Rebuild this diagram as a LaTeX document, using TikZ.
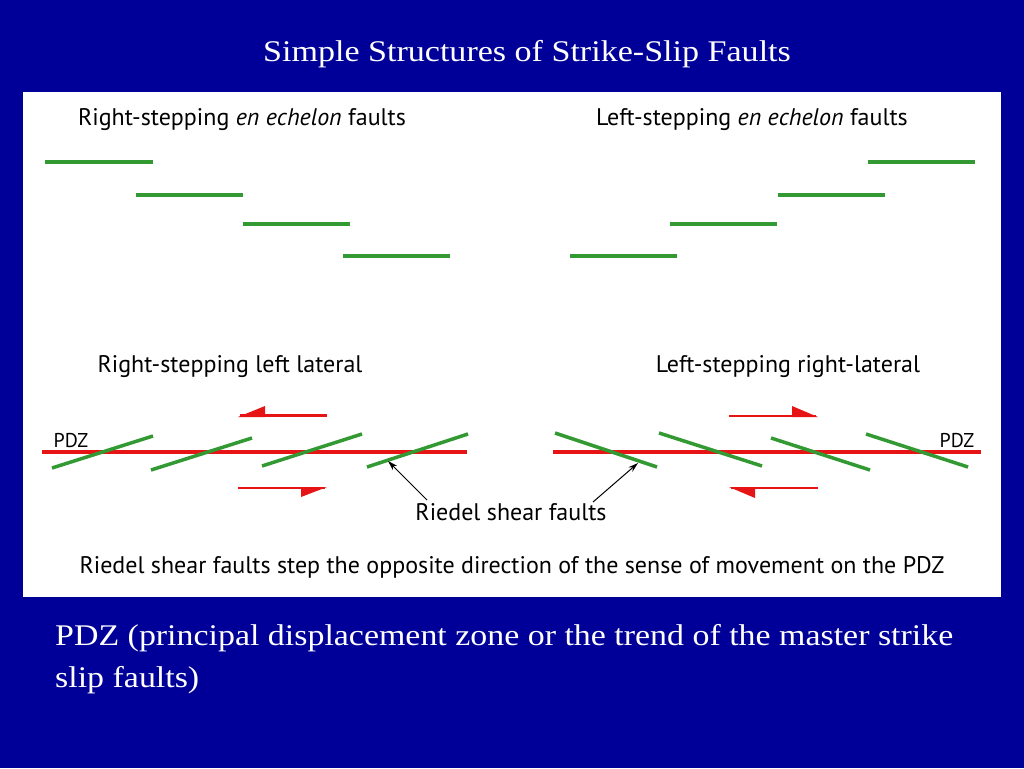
\documentclass[tikz,border=0pt]{standalone}
\usepackage{fontspec}
\setmainfont{Liberation Serif}
\newfontfamily\panelfont{PT Sans}
\usetikzlibrary{arrows.meta}
\definecolor{bgblue}{RGB}{0,0,153}
\definecolor{fgreen}{RGB}{51,153,51}
\definecolor{fred}{RGB}{230,20,20}
\begin{document}
\begin{tikzpicture}[x=1pt,y=-1pt,
  fault/.style={draw=fgreen,line width=3.5pt},
  pdz/.style={draw=fred,line width=3.5pt},
  sense/.style={draw=fred,line width=2.5pt},
  headfill/.style={fill=fred},
  lbl/.style={font=\panelfont\fontsize{24}{28}\selectfont,inner sep=0pt,text=black,anchor=base},
  small/.style={font=\panelfont\fontsize{20}{24}\selectfont,inner sep=0pt,text=black,anchor=base},
  ptr/.style={draw=black,line width=1pt,-{Stealth[length=10pt,width=6pt]}},
  slide/.style={text=white,inner sep=0pt}]
\useasboundingbox (0,0) rectangle (1024,768);
\fill[bgblue] (0,0) rectangle (1024,768);
\fill[white] (23,92) rectangle (1001,597);
% title
\node[slide,anchor=base,font=\fontsize{30}{36}\selectfont] (title) at (527,61) {\scalebox{1.135}[1]{Simple Structures of Strike-Slip Faults}};
% en echelon labels
\node[lbl] (rse) at (242,125) {Right-stepping \textit{en echelon} faults};
\node[lbl] (lse) at (752,125) {Left-stepping \textit{en echelon} faults};
% en echelon faults
\draw[fault] (45,162) -- (153,162);
\draw[fault] (136,195) -- (243,195);
\draw[fault] (243,224) -- (350,224);
\draw[fault] (343,256) -- (450,256);
\draw[fault] (868,162) -- (975,162);
\draw[fault] (778,195) -- (885,195);
\draw[fault] (670,224) -- (777,224);
\draw[fault] (570,256) -- (677,256);
% lateral labels
\node[lbl] (rsl) at (230,372) {Right-stepping left lateral};
\node[lbl] (lsr) at (788,372) {Left-stepping right-lateral};
% PDZ lines
\draw[pdz] (42,452) -- (467,452);
\draw[pdz] (553,452) -- (981,452);
\node[small] (pdzl) at (71,447) {PDZ};
\node[small] (pdzr) at (957,447) {PDZ};
% Riedel shears left
\draw[fault] (52,468) -- (153,436);
\draw[fault] (151,470) -- (252,438);
\draw[fault] (262,466) -- (362,434);
\draw[fault] (367,467) -- (468,434);
% Riedel shears right
\draw[fault] (555,433) -- (657,467);
\draw[fault] (659,433) -- (762,466);
\draw[fault] (771,438) -- (870,470);
\draw[fault] (866,434) -- (968,467);
% sense arrows left
\draw[sense] (240,415.5) -- (327,415.5);
\fill[headfill] (238,417) -- (265,406) -- (265,417) -- cycle;
\draw[sense] (238,488) -- (325,488);
\fill[headfill] (327,487) -- (301,497) -- (301,487) -- cycle;
% sense arrows right
\draw[sense] (729,416) -- (816,416);
\fill[headfill] (818,417) -- (792,406) -- (792,417) -- cycle;
\draw[sense] (731,488) -- (818,488);
\fill[headfill] (729,487) -- (755,498) -- (755,487) -- cycle;
% Riedel label and pointers
\node[lbl] (riedel) at (511,520) {Riedel shear faults};
\coordinate (rtipl) at (388,461);
\coordinate (rtipr) at (638,463);
\draw[ptr] (427,500) -- (rtipl);
\draw[ptr] (593,502) -- (rtipr);
% caption in panel
\node[lbl] (cap) at (512,573) {Riedel shear faults step the opposite direction of the sense of movement on the PDZ};
% slide text
\node[slide,anchor=base west,font=\fontsize{30}{42}\selectfont] (pdztext1) at (55,645) {\scalebox{1.13}[1]{PDZ (principal displacement zone or the trend of the master strike}};
\node[slide,anchor=base west,font=\fontsize{30}{42}\selectfont] (pdztext2) at (55,687) {\scalebox{1.13}[1]{slip faults)}};
\end{tikzpicture}
\end{document}
